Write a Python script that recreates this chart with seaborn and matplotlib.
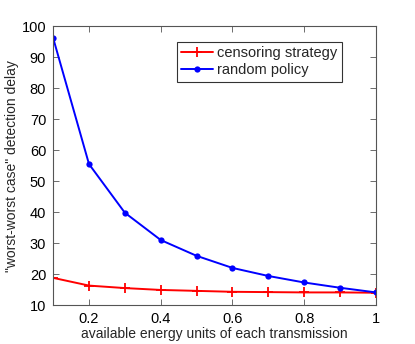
import numpy as np
import pandas as pd
import matplotlib
matplotlib.use("Agg")
import matplotlib.pyplot as plt
import seaborn as sns

# --- data ---
energy = [0.1, 0.2, 0.3, 0.4, 0.5, 0.6, 0.7, 0.8, 0.9, 1.0]
censoring = [18.8, 16.3, 15.5, 14.9, 14.6, 14.3, 14.2, 14.1, 14.1, 14.0]
random_policy = [96.2, 55.5, 39.8, 31.0, 25.9, 22.0, 19.4, 17.3, 15.6, 14.1]
series_names = ["censoring strategy", "random policy"]
x_ticks = [0.2, 0.4, 0.6, 0.8, 1.0]
x_tick_labels = ["0.2", "0.4", "0.6", "0.8", "1"]
y_ticks = [10, 20, 30, 40, 50, 60, 70, 80, 90, 100]

sns.set_style("white")
plt.rcParams['font.family'] = ['Liberation Sans', 'DejaVu Sans']

fig = plt.figure(figsize=(4.15, 3.44), dpi=100)
ax = fig.add_axes([0.128, 0.113, 0.778, 0.811])

sns.lineplot(x=energy, y=censoring, color="#ff0000", marker="+", linestyle="-",
             linewidth=1.4, markersize=7, markeredgewidth=1.3,
             markeredgecolor="#ff0000", label=series_names[0], ax=ax)
sns.lineplot(x=energy, y=random_policy, color="#0000ff", marker="o", linestyle="-",
             linewidth=1.4, markersize=4.5, markeredgewidth=0,
             label=series_names[1], ax=ax)

ax.set_xlim(0.1, 1.0)
ax.set_ylim(10, 100)
ax.set_xticks(x_ticks)
ax.set_xticklabels(x_tick_labels)
ax.set_yticks(y_ticks)
ax.tick_params(direction="in", length=4, width=0.6, colors="#555555",
               labelcolor="black", labelsize=10.5, top=True, right=True,
               bottom=True, left=True, pad=5)
for s in ax.spines.values():
    s.set_color("#555555")
    s.set_linewidth(0.8)
    s.set_visible(True)

ax.set_xlabel("available energy units of each transmission", fontsize=10, labelpad=1)
ax.set_ylabel('"worst-worst case" detection delay', fontsize=10, labelpad=2)

leg = ax.legend(loc="upper right",
                bbox_to_anchor=(342 / 415, 1 - 42 / 344), bbox_transform=fig.transFigure,
                fontsize=10.5, frameon=True, fancybox=False, handlelength=2.2,
                handletextpad=0.3, borderpad=0.3, labelspacing=0.2, borderaxespad=0)
leg.get_frame().set_edgecolor("black")
leg.get_frame().set_linewidth(0.8)

fig.savefig("out.png", dpi=100)
